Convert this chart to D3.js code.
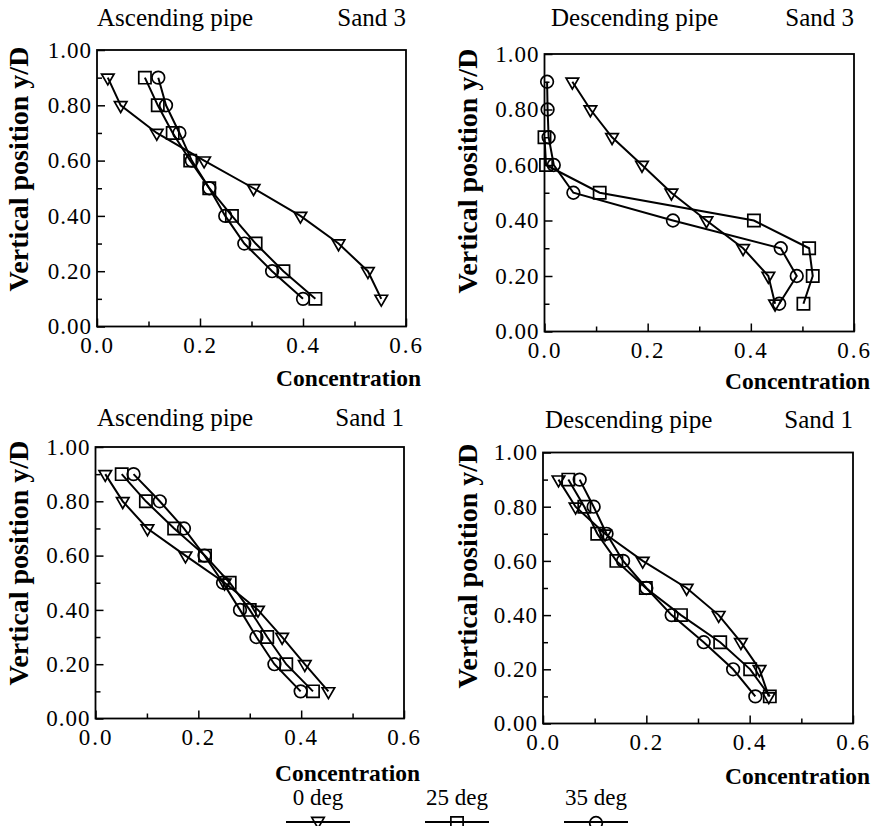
<!DOCTYPE html>
<html>
<head>
<meta charset="utf-8">
<script src="https://cdn.jsdelivr.net/npm/d3@7"></script>
<style>
  html, body { margin: 0; padding: 0; background: #fff; }
  svg { display: block; }
  svg text { font-family: "Liberation Serif", "Times New Roman", "DejaVu Serif", serif !important; fill: #000; }
</style>
</head>
<body>
<svg id="chart" width="881" height="826"></svg>
<script>
// ---------------- data ----------------
const yLevels = [0.9, 0.8, 0.7, 0.6, 0.5, 0.4, 0.3, 0.2, 0.1];
const seriesNames = ["0 deg", "25 deg", "35 deg"];
const xTicks = [0.0, 0.2, 0.4, 0.6];
const xMinorTicks = [0.1, 0.3, 0.5];
const yTicks = [0.0, 0.2, 0.4, 0.6, 0.8, 1.0];
const yMinorTicks = [0.1, 0.3, 0.5, 0.7, 0.9];
const axisXLabel = "Concentration";
const axisYLabel = "Vertical position y/D";

// Ascending pipe, Sand 3
const asc3_0deg  = [0.021, 0.046, 0.116, 0.208, 0.304, 0.395, 0.469, 0.526, 0.552];
const asc3_25deg = [0.093, 0.118, 0.147, 0.181, 0.218, 0.262, 0.308, 0.362, 0.424];
const asc3_35deg = [0.119, 0.134, 0.160, 0.184, 0.218, 0.249, 0.286, 0.340, 0.400];
// Descending pipe, Sand 3
const desc3_0deg  = [0.054, 0.089, 0.131, 0.189, 0.246, 0.314, 0.385, 0.434, 0.447];
const desc3_25deg = [null, null, 0.000, 0.003, 0.107, 0.406, 0.513, 0.520, 0.502];
const desc3_35deg = [0.005, 0.006, 0.008, 0.018, 0.056, 0.249, 0.458, 0.489, 0.455];
// Ascending pipe, Sand 1
const asc1_0deg  = [0.019, 0.053, 0.101, 0.175, 0.251, 0.316, 0.363, 0.407, 0.453];
const asc1_25deg = [0.051, 0.098, 0.153, 0.213, 0.261, 0.300, 0.334, 0.371, 0.423];
const asc1_35deg = [0.074, 0.125, 0.172, 0.212, 0.248, 0.281, 0.313, 0.348, 0.399];
// Descending pipe, Sand 1
const desc1_0deg  = [0.030, 0.063, 0.120, 0.193, 0.278, 0.340, 0.383, 0.419, 0.437];
const desc1_25deg = [0.049, 0.080, 0.105, 0.142, 0.199, 0.267, 0.343, 0.401, 0.439];
const desc1_35deg = [0.071, 0.098, 0.123, 0.155, 0.200, 0.249, 0.311, 0.368, 0.411];

// ---------------- layout ----------------
const panels = [
  { title: "Ascending pipe",  sand: "Sand 3", series: [asc3_0deg, asc3_25deg, asc3_35deg],
    x0: 97, x1: 406, yTop: 50, yBot: 326.5, titleX: 97, titleY: 26, ylabX: 28, ylabY: 169, xlabX: 421, xlabY: 386 },
  { title: "Descending pipe", sand: "Sand 3", series: [desc3_0deg, desc3_25deg, desc3_35deg],
    x0: 544.5, x1: 854, yTop: 54, yBot: 331.5, titleX: 551, titleY: 26, ylabX: 477, ylabY: 171, xlabX: 870, xlabY: 389 },
  { title: "Ascending pipe",  sand: "Sand 1", series: [asc1_0deg, asc1_25deg, asc1_35deg],
    x0: 95.5, x1: 404, yTop: 447, yBot: 718.5, titleX: 97, titleY: 426, ylabX: 28, ylabY: 563, xlabX: 420, xlabY: 781 },
  { title: "Descending pipe", sand: "Sand 1", series: [desc1_0deg, desc1_25deg, desc1_35deg],
    x0: 543, x1: 853, yTop: 452.5, yBot: 723.5, titleX: 545, titleY: 428, ylabX: 477, ylabY: 566, xlabX: 870, xlabY: 784 }
];

const svg = d3.select("#chart");
const sym = [
  d3.symbol().type(d3.symbolTriangle).size(68),
  d3.symbol().type(d3.symbolSquare).size(150),
  d3.symbol().type(d3.symbolCircle).size(125)
];
const symRot = [180, 0, 0];

function drawMarker(g, i, cx, cy) {
  g.append("path")
    .attr("d", sym[i]())
    .attr("transform", `translate(${cx},${cy}) rotate(${symRot[i]})`)
    .attr("fill", "none")
    .attr("stroke", "#000")
    .attr("stroke-width", 1.7);
}

const serif = "'Liberation Serif', 'Times New Roman', serif";

panels.forEach(p => {
  const x = d3.scaleLinear().domain([0, 0.6]).range([p.x0, p.x1]);
  const y = d3.scaleLinear().domain([0, 1]).range([p.yBot, p.yTop]);
  const g = svg.append("g");

  // frame
  g.append("rect")
    .attr("x", x(0)).attr("y", y(1))
    .attr("width", x(0.6) - x(0)).attr("height", y(0) - y(1))
    .attr("fill", "none").attr("stroke", "#000").attr("stroke-width", 1.8);

  // axes
  const ay = g.append("g").attr("transform", `translate(${x(0)},0)`)
    .call(d3.axisLeft(y).tickValues(yTicks).tickSize(-8).tickPadding(5).tickFormat(d3.format(".2f")));
  const ayMinor = g.append("g").attr("transform", `translate(${x(0)},0)`)
    .call(d3.axisLeft(y).tickValues(yMinorTicks).tickSize(-5).tickFormat(""));
  const ax = g.append("g").attr("transform", `translate(0,${y(0)})`)
    .call(d3.axisBottom(x).tickValues(xTicks).tickSize(-8).tickPadding(10).tickFormat(d3.format(".1f")));
  const axMinor = g.append("g").attr("transform", `translate(0,${y(0)})`)
    .call(d3.axisBottom(x).tickValues(xMinorTicks).tickSize(-5).tickFormat(""));
  [ay, ayMinor, ax, axMinor].forEach(a => {
    a.attr("font-family", null).attr("font-size", null);
    a.select(".domain").remove();
    a.selectAll("line").attr("stroke", "#000").attr("stroke-width", 1.5);
    a.selectAll("text").attr("fill", "#000")
      .style("font-family", serif).style("font-size", "23px");
  });
  ay.selectAll("text").style("letter-spacing", "1px");
  ax.selectAll("text").style("letter-spacing", "2px");

  // series
  p.series.forEach((vals, si) => {
    const pts = vals.map((v, k) => ({ c: v, h: yLevels[k] })).filter(d => d.c !== null);
    g.append("path")
      .datum(pts)
      .attr("d", d3.line().x(d => x(d.c)).y(d => y(d.h)))
      .attr("fill", "none").attr("stroke", "#000").attr("stroke-width", 2);
    pts.forEach(d => drawMarker(g, si, x(d.c), y(d.h)));
  });

  // titles
  g.append("text").attr("x", p.titleX).attr("y", p.titleY)
    .style("font-family", serif).style("font-size", "25px").text(p.title);
  g.append("text").attr("x", x(0.6)).attr("y", p.titleY)
    .attr("text-anchor", "end").style("font-family", serif).style("font-size", "25px").text(p.sand);

  // axis labels
  g.append("text").attr("x", p.xlabX).attr("y", p.xlabY)
    .attr("text-anchor", "end").style("font-family", serif).style("font-size", "23.5px").style("font-weight", "bold")
    .text(axisXLabel);
  g.append("text")
    .attr("transform", `translate(${p.ylabX},${p.ylabY}) rotate(-90)`)
    .attr("text-anchor", "middle").style("font-family", serif).style("font-size", "28px").style("font-weight", "bold")
    .text(axisYLabel);
});

// legend
const legendX = [318, 457, 596];
const legend = svg.append("g");
seriesNames.forEach((name, i) => {
  const cx = legendX[i];
  legend.append("text").attr("x", cx).attr("y", 805)
    .attr("text-anchor", "middle").style("font-family", serif).style("font-size", "23px").text(name);
  legend.append("line")
    .attr("x1", cx - 32).attr("x2", cx + 32).attr("y1", 822).attr("y2", 822)
    .attr("stroke", "#000").attr("stroke-width", 2);
  drawMarker(legend, i, cx, i === 0 ? 821 : 823);
});
</script>
</body>
</html>
